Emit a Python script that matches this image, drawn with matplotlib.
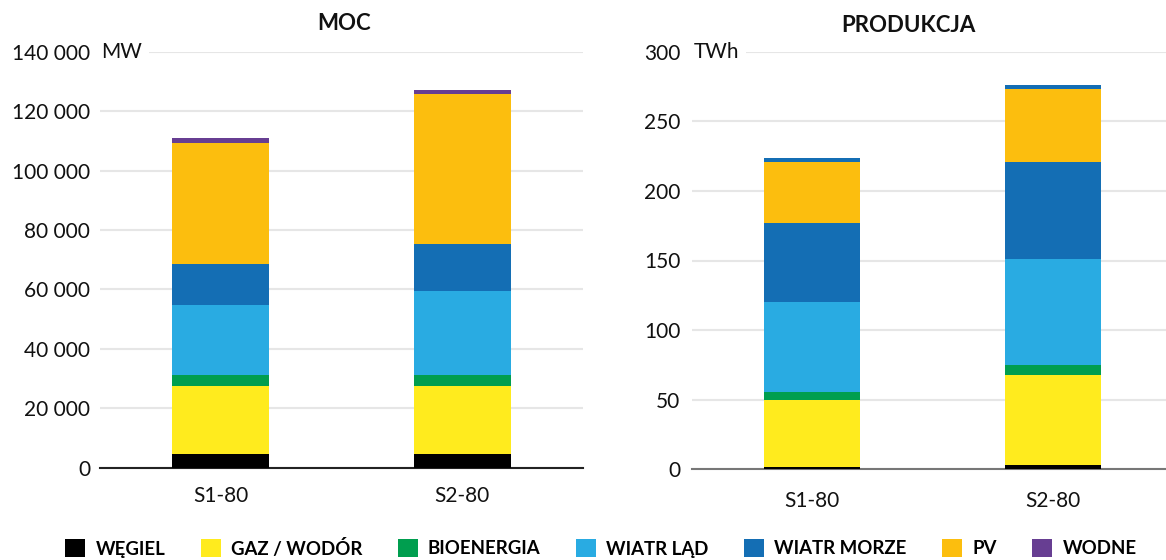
import matplotlib
matplotlib.use("Agg")
import matplotlib.pyplot as plt
from matplotlib.patches import Patch
from matplotlib.ticker import FuncFormatter
import numpy as np

plt.rcParams['font.family'] = ['Lato', 'DejaVu Sans']

scenarios = ["S1-80", "S2-80"]
sources = ["WĘGIEL", "GAZ / WODÓR", "BIOENERGIA", "WIATR LĄD", "WIATR MORZE", "PV", "WODNE"]
colors = ["#000000", "#FFEB1E", "#009E4F", "#29ABE2", "#146EB4", "#FCBE0E", "#673E92"]

# installed capacity [MW]
moc_wegiel = [4500, 4500]
moc_gaz = [22800, 22800]
moc_bio = [3700, 3700]
moc_lad = [23600, 28500]
moc_morze = [13800, 15900]
moc_pv = [41100, 50300]
moc_wodne = [1600, 1600]

# generation [TWh]
prod_wegiel = [1.2, 3.2]
prod_gaz = [48.8, 64.2]
prod_bio = [5.2, 7.2]
prod_lad = [64.6, 76.6]
prod_morze = [57.3, 69.5]
prod_pv = [43.6, 52.4]
prod_wodne = [3.3, 3.3]

moc_ticks = [0, 20000, 40000, 60000, 80000, 100000, 120000, 140000]
prod_ticks = [0, 50, 100, 150, 200, 250, 300]

moc = [moc_wegiel, moc_gaz, moc_bio, moc_lad, moc_morze, moc_pv, moc_wodne]
prod = [prod_wegiel, prod_gaz, prod_bio, prod_lad, prod_morze, prod_pv, prod_wodne]
# in the generation chart the hydro segment is shown in the offshore-wind blue
prod_colors = colors[:6] + [colors[4]]

W, H = 1166, 560
fig = plt.figure(figsize=(W / 100, H / 100), dpi=100)

ax1 = fig.add_axes([100 / W, 1 - 467.5 / H, 483 / W, 415.5 / H])
ax2 = fig.add_axes([692 / W, 1 - 469 / H, 481 / W, 417 / H])


def stacked(ax, series, cols, ticks, unit, spine_color, ypad, xpad):
    x = np.arange(len(scenarios))
    bottom = np.zeros(len(scenarios))
    for vals, c in zip(series, cols):
        ax.bar(x, vals, width=0.4, bottom=bottom, color=c, edgecolor="none", zorder=3)
        bottom += np.array(vals)
    ax.set_xlim(-0.5, 1.5)
    ax.set_ylim(ticks[0], ticks[-1])
    ax.set_yticks(ticks)
    ax.yaxis.set_major_formatter(FuncFormatter(lambda v, p: f"{int(v):,}".replace(",", " ")))
    ax.set_xticks(x)
    ax.set_xticklabels(scenarios)
    ax.grid(axis="y", color="#E6E6E6", linewidth=1.5, zorder=0)
    ax.set_axisbelow(True)
    for s in ["top", "right", "left"]:
        ax.spines[s].set_visible(False)
    ax.spines["bottom"].set_color(spine_color)
    ax.spines["bottom"].set_linewidth(1.5)
    ax.spines["bottom"].set_zorder(2.5)
    ax.tick_params(axis="y", length=0, pad=ypad, labelsize=15, labelcolor="#111111")
    ax.tick_params(axis="x", length=0, pad=xpad, labelsize=15, labelcolor="#111111")
    ax.text(0.003, ticks[-1], unit, transform=ax.get_yaxis_transform(), fontsize=15,
            color="#111111", va="center", ha="left", zorder=5,
            bbox=dict(facecolor="white", edgecolor="none", pad=5))


stacked(ax1, moc, colors, moc_ticks, "MW", "#222222", 7, 13)
stacked(ax2, prod, prod_colors, prod_ticks, "TWh", "#777777", 8.5, 16)

fig.text(344 / W, 1 - 24 / H, "MOC", ha="center", va="center", fontsize=16, fontweight="bold", color="#111111")
fig.text(908 / W, 1 - 25 / H, "PRODUKCJA", ha="center", va="center", fontsize=16, fontweight="bold", color="#111111")

handles = [Patch(facecolor=c, edgecolor="none") for c in colors]
fig.legend(handles, sources, loc="center", bbox_to_anchor=(601 / W, 1 - 548 / H), ncol=7,
           frameon=False, prop={"family": "Lato", "weight": "bold", "size": 13.4},
           handlelength=1.07, handleheight=1.07, handletextpad=0.54, columnspacing=1.92,
           borderaxespad=0)

fig.savefig("out.png", dpi=100)
